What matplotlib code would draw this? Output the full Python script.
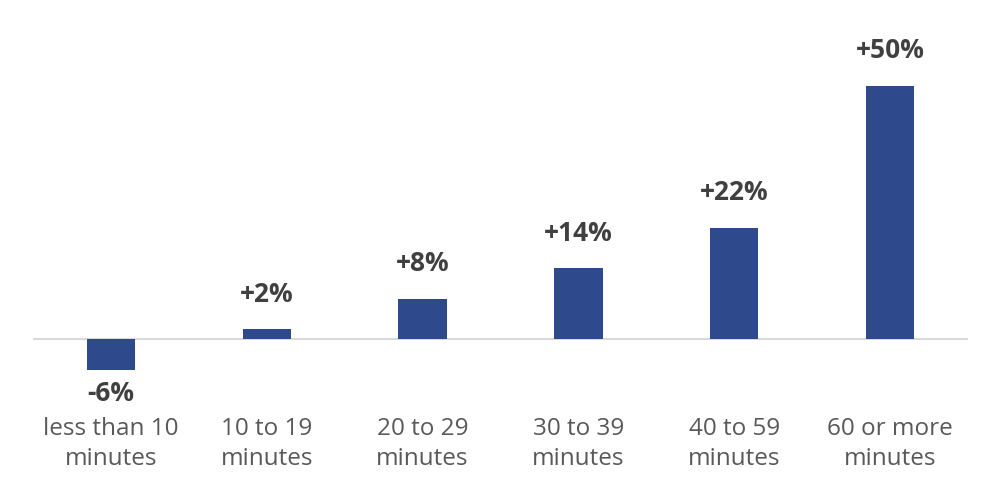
import matplotlib.pyplot as plt

categories = ["less than 10\nminutes", "10 to 19\nminutes", "20 to 29\nminutes",
              "30 to 39\nminutes", "40 to 59\nminutes", "60 or more\nminutes"]
values = [-6, 2, 8, 14, 22, 50]
labels = ["-6%", "+2%", "+8%", "+14%", "+22%", "+50%"]

plt.rcParams['font.family'] = ['Open Sans', 'DejaVu Sans']

fig = plt.figure(figsize=(10, 4.93), dpi=100)
ax = fig.add_axes([0.033, 1 - 400 / 493, 0.935, 400 / 493])
x = list(range(len(values)))
ax.bar(x, values, width=0.31, color="#2E4A8C", zorder=2)
ax.axhline(0, color="#D9D9D9", lw=1.5, zorder=1)
ax.set_xlim(-0.5, 5.5)
ax.set_ylim(-12.0, 66.9)
ax.axis("off")

for xi, v, lab in zip(x, values, labels):
  y = v + 6.9 if v >= 0 else v - 4.8
  ax.text(xi, y, lab, ha="center", va="center", fontsize=19, fontweight="bold",
          color="#404040")
  ax.text(xi, -20.7, categories[xi], ha="center", va="center", fontsize=17.5,
          color="#595959", linespacing=1.3, clip_on=False)

fig.savefig("out.png", dpi=100)
